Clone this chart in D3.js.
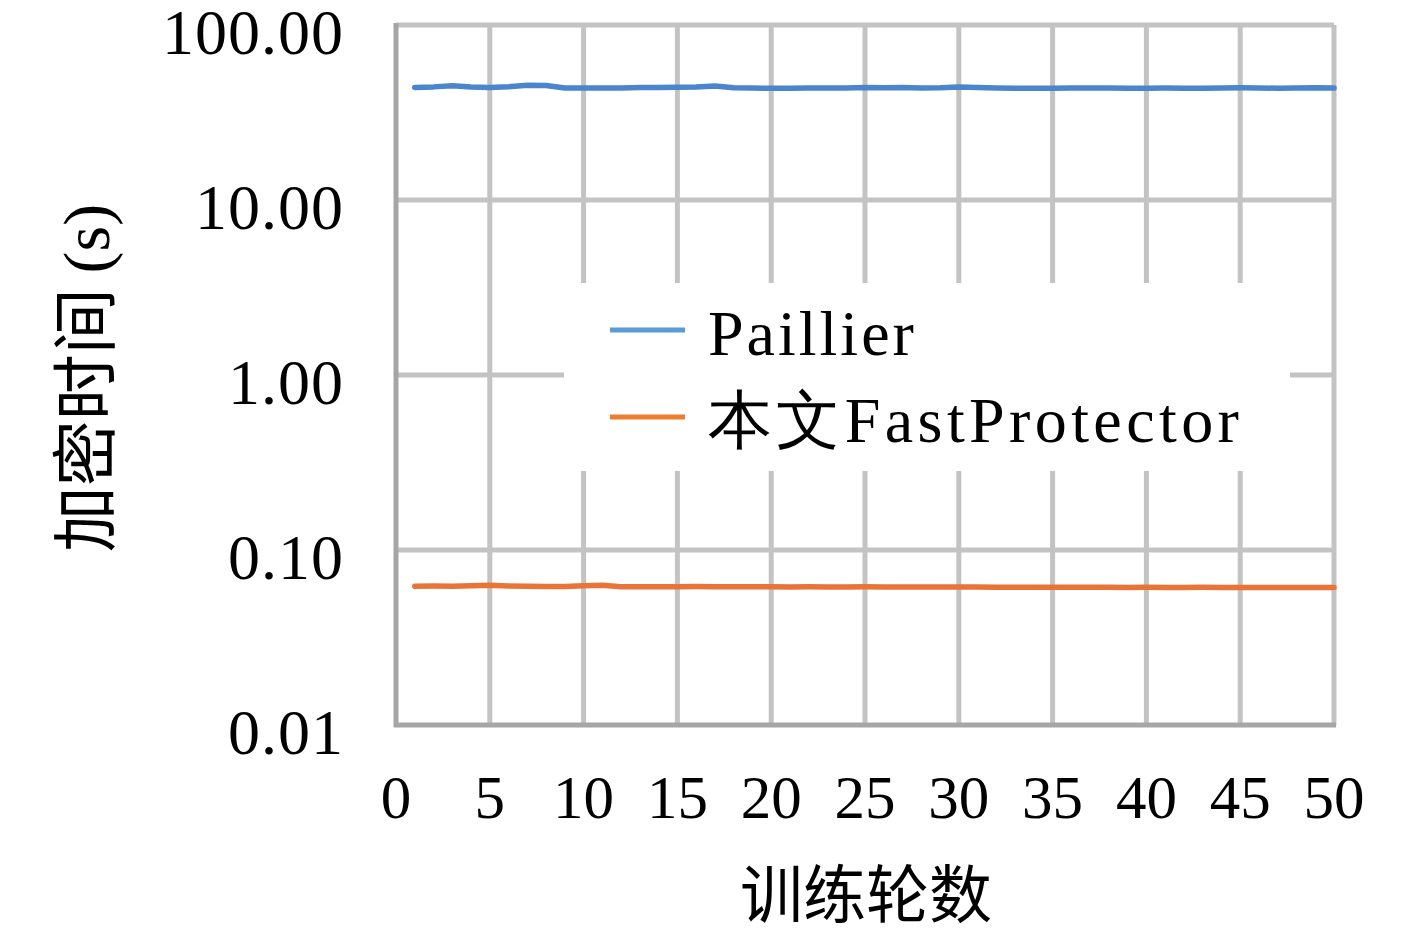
<!DOCTYPE html>
<html>
<head>
<meta charset="utf-8">
<script src="https://cdn.jsdelivr.net/npm/d3@7"></script>
<style>
  body { margin: 0; background: #fff; }
  .num { font-family: "Liberation Serif", "DejaVu Serif", serif; fill: #000; }
  .cjk { font-family: "Noto Sans CJK SC", sans-serif; fill: #000; }
</style>
</head>
<body>
<div id="chart"></div>
<script>
"use strict";

// training epochs 1..50
var epochs = d3.range(1, 51);

var paillierTimes = [44.0, 44.3, 44.9, 44.2, 44.0, 44.4, 45.3, 45.1, 43.6, 43.6,
                     43.7, 43.7, 43.9, 44.0, 44.1, 44.2, 44.8, 43.8, 43.6, 43.5,
                     43.5, 43.6, 43.6, 43.7, 44.0, 43.8, 43.9, 43.7, 43.8, 44.2,
                     43.9, 43.6, 43.5, 43.5, 43.5, 43.6, 43.7, 43.6, 43.5, 43.5,
                     43.6, 43.5, 43.5, 43.7, 43.8, 43.7, 43.5, 43.6, 43.8, 43.6];

var fastTimes = [0.0620, 0.0622, 0.0621, 0.0625, 0.0628, 0.0623, 0.0620, 0.0619, 0.0618, 0.0624,
                 0.0628, 0.0617, 0.0616, 0.0616, 0.0617, 0.0618, 0.0617, 0.0616, 0.0616, 0.0616,
                 0.0615, 0.0616, 0.0615, 0.0615, 0.0616, 0.0615, 0.0614, 0.0615, 0.0614, 0.0614,
                 0.0614, 0.0613, 0.0613, 0.0613, 0.0612, 0.0613, 0.0612, 0.0612, 0.0611, 0.0612,
                 0.0611, 0.0611, 0.0612, 0.0611, 0.0610, 0.0611, 0.0610, 0.0610, 0.0610, 0.0610];

var xTicks = d3.range(0, 51, 5);
var yTicks = [0.01, 0.1, 1, 10, 100];

var seriesNames = ["Paillier", "本文FastProtector"];
var seriesColors = ["#4a85cd", "#ea7437"];
var legendColors = ["#5b9bd5", "#ed7d31"];

var W = 1417, H = 935;
var margin = {top: 25, right: 83, bottom: 210, left: 396};
var width = W - margin.left - margin.right,
    height = H - margin.top - margin.bottom;

var svg = d3.select("#chart").append("svg")
            .attr("width", W)
            .attr("height", H);

var g = svg.append("g")
           .attr("transform", "translate(" + margin.left + "," + margin.top + ")");

var x = d3.scaleLinear().domain([0, 50]).range([0, width]);
var y = d3.scaleLog().domain([0.01, 100]).range([height, 0]);

// grid
g.append("g").selectAll("line")
  .data(xTicks.filter(function(d){ return d > 0; }))
  .enter().append("line")
  .attr("x1", function(d){ return x(d); })
  .attr("x2", function(d){ return x(d); })
  .attr("y1", 0).attr("y2", height)
  .attr("stroke", "#c3c3c3")
  .attr("stroke-width", 5);

g.append("g").selectAll("line")
  .data(yTicks.filter(function(d){ return d > 0.01; }))
  .enter().append("line")
  .attr("x1", 0).attr("x2", width)
  .attr("y1", function(d){ return y(d); })
  .attr("y2", function(d){ return y(d); })
  .attr("stroke", "#c3c3c3")
  .attr("stroke-width", 5);

// axes (left + bottom)
g.append("line")
  .attr("x1", 0).attr("x2", 0).attr("y1", -2).attr("y2", height + 2)
  .attr("stroke", "#a6a6a6").attr("stroke-width", 5);
g.append("line")
  .attr("x1", -2).attr("x2", width + 2).attr("y1", height).attr("y2", height)
  .attr("stroke", "#a6a6a6").attr("stroke-width", 5);

// series
var line = d3.line()
  .x(function(d){ return x(d[0]); })
  .y(function(d){ return y(d[1]); });

[paillierTimes, fastTimes].forEach(function(vals, i){
  g.append("path")
    .datum(epochs.map(function(e, k){ return [e, vals[k]]; }))
    .attr("d", line)
    .attr("fill", "none")
    .attr("stroke", seriesColors[i])
    .attr("stroke-width", 5.5)
    .attr("stroke-linecap", "round")
    .attr("stroke-linejoin", "round");
});

// tick labels
g.append("g").selectAll("text")
  .data(yTicks)
  .enter().append("text")
  .attr("class", "num")
  .attr("x", -52)
  .attr("y", function(d){ return y(d); })
  .attr("dy", "0.45em")
  .attr("text-anchor", "end")
  .attr("font-size", 64)
  .attr("letter-spacing", 1)
  .text(function(d){ return d3.format(".2f")(d); });

g.append("g").selectAll("text")
  .data(xTicks)
  .enter().append("text")
  .attr("class", "num")
  .attr("x", function(d){ return x(d); })
  .attr("y", height + 93)
  .attr("text-anchor", "middle")
  .attr("font-size", 61)
  .text(function(d){ return d; });

// axis titles
svg.append("text")
  .attr("class", "cjk")
  .attr("x", margin.left + width / 2 + 1)
  .attr("y", 917)
  .attr("text-anchor", "middle")
  .attr("font-size", 63)
  .text("训练轮数");

var yTitle = svg.append("text")
  .attr("class", "cjk")
  .attr("transform", "translate(109,378) rotate(-90)")
  .attr("text-anchor", "middle")
  .attr("font-size", 66);
yTitle.append("tspan").text("加密时间 ");
yTitle.append("tspan").attr("class", "num").attr("font-size", 66).text("(s)");

// legend
var legend = g.append("g");
legend.append("rect")
  .attr("x", 168).attr("y", 258)
  .attr("width", 726).attr("height", 188)
  .attr("fill", "#fff");

var legendSpacing = [3, 4.4];
seriesNames.forEach(function(name, i){
  var ly = 305 + i * 87;
  legend.append("line")
    .attr("x1", 214).attr("x2", 289)
    .attr("y1", ly).attr("y2", ly)
    .attr("stroke", legendColors[i])
    .attr("stroke-width", 5);
  legend.append("text")
    .attr("class", "num")
    .attr("x", 312)
    .attr("y", ly + 25)
    .attr("font-size", 64)
    .attr("letter-spacing", legendSpacing[i])
    .text(name);
});
</script>
</body>
</html>
